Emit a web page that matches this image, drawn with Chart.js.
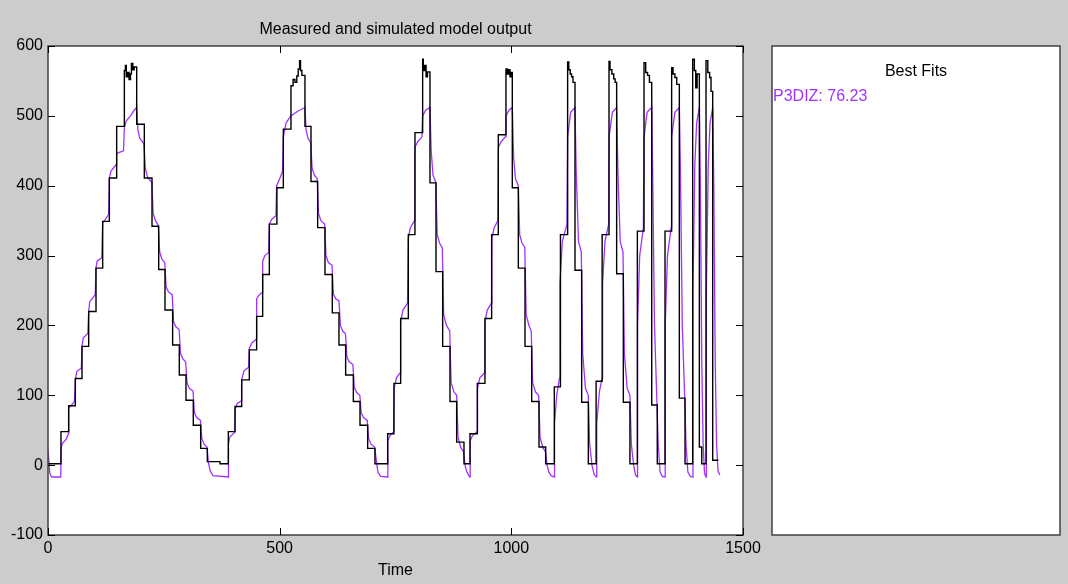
<!DOCTYPE html>
<html>
<head>
<meta charset="utf-8">
<title>Measured and simulated model output</title>
<script src="https://cdn.jsdelivr.net/npm/chart.js@4.4.1/dist/chart.umd.min.js"></script>
<style>
  html, body { margin: 0; padding: 0; background: #cccccc; }
  canvas { display: block; }
</style>
</head>
<body>
<canvas id="c" width="1068" height="584"></canvas>
<script>
// Measured output: staircase signal, each entry is the time where the level changes and the new level.
const measuredTime = [
  0, 28, 44.6, 59, 73.4, 87.8, 103.6, 118, 132.4, 148.2, 164.8, 167, 169, 172, 175, 178, 180, 183, 186,
  191.4, 207.9, 224.5, 238.9, 252.5, 269, 283.4, 297.8, 313.6, 329.5, 343.9, 371.2,
  389.2, 403.6, 418, 434.5, 450.3, 463.3, 477.7, 494, 507.9, 524.4, 529, 533, 537, 540, 543, 545, 548,
  554.6, 567.6, 582, 597.8, 613.6, 628, 642.4, 659, 673.4, 689.9, 705.7,
  733.1, 746.7, 761.1, 777.7, 792, 808.6, 810, 813, 816, 819,
  824.4, 837.4, 851.8, 867.6, 882, 897.8,
  910.8, 926.6, 943.1, 957.5, 971.9, 988.4, 991, 994, 997, 1000,
  1002.1, 1015.1, 1029.5, 1043.9, 1059.7, 1074.1,
  1092.8, 1106, 1121.5, 1124, 1127, 1130, 1133,
  1137.4, 1151.8, 1166.2, 1183, 1196, 1210.8, 1213, 1217, 1221, 1224,
  1227.3, 1241.7, 1256, 1272, 1286.4, 1290, 1294, 1298,
  1303, 1315, 1331.7, 1346, 1349, 1353, 1357,
  1362.6, 1374.9, 1391.4, 1395, 1398, 1401,
  1405.8, 1411, 1420.2, 1424, 1428, 1431,
  1434.6, 1447
];
const measuredOutput = [
  2, 48, 85, 124, 170, 220, 282, 349, 411, 485, 565, 572, 556, 562, 552, 560, 575, 566, 570,
  488, 411, 342, 280, 222, 172, 129, 93, 57, 24, 5, 2,
  48, 84, 122, 165, 213, 273, 345, 397, 481, 543, 552, 548, 557, 567, 579, 565, 558,
  485, 406, 340, 273, 218, 172, 129, 91, 57, 24, 2,
  45, 117, 210, 330, 476, 581, 565, 572, 556, 563,
  404, 277, 170, 91, 33, 2,
  45, 117, 210, 330, 473, 567, 560, 566, 556, 562,
  397, 282, 170, 91, 26, 2,
  112, 330, 577, 566, 560, 556, 548,
  279, 90, 2, 120, 330, 578, 566, 560, 553, 548,
  274, 90, 2, 335, 576, 562, 558, 548,
  86, 2, 335, 569, 560, 555, 545,
  96, 2, 581, 565, 540, 560,
  26, 2, 579, 562, 555, 535,
  7, 7
];

// Simulated model output (P3DIZ), read as corner points of the smooth response.
const simulatedTime = [
  0, 4, 8, 27.5, 28.1, 31, 40, 44, 44.6, 48, 57, 59, 62, 72, 73.4, 76, 86, 87.8, 90, 102, 103.6, 106, 116,
  118, 121, 131, 132.4, 136, 147, 148.2, 151, 163, 164.8, 169, 178, 186, 191.4,
  194, 198, 207, 210, 215, 224, 227, 232, 238, 241, 246, 252, 255, 260, 268, 271, 276, 283, 286, 291, 297,
  300, 305, 313, 316, 321, 329, 332, 337, 343, 346, 350, 356, 389.2,
  389.5, 392, 403, 404, 408, 417, 418, 423, 433, 434.5, 440, 449, 450.3, 456, 462, 463.3, 468, 476,
  477.7, 483, 492, 493.5, 500, 506, 507.9, 514, 524, 540, 554.6,
  557, 561, 567, 570, 575, 581, 584, 589, 597, 600, 605, 613, 616, 621, 628, 631, 636, 642, 645, 650, 658,
  661, 666, 673, 676, 681, 689, 692, 697, 705, 708, 712, 718, 733.1,
  733.5, 738, 746, 747, 752, 760, 761.1, 766, 776, 777.7, 782, 791, 792, 798, 807, 808.6, 815, 824.4,
  827, 831, 837, 840, 845, 851, 854, 860, 867, 870, 876, 882, 885, 891, 897, 900, 904, 908, 910.8,
  911.2, 916, 926, 927, 932, 942, 943.1, 948, 957, 958, 963, 971, 972, 978, 987, 988.4, 995, 1002.1,
  1005, 1009, 1015, 1018, 1023, 1029, 1032, 1038, 1043, 1046, 1052, 1059, 1062, 1068, 1074, 1077, 1081, 1086, 1092.8,
  1093.2, 1098, 1104, 1105, 1110, 1120, 1121.5, 1128, 1137.4,
  1140, 1145, 1151, 1154, 1160, 1166, 1169, 1174, 1179, 1184, 1184.4, 1190, 1196, 1197, 1202, 1210, 1211, 1218, 1227.3,
  1230, 1235, 1241, 1244, 1250, 1256, 1259, 1264, 1268, 1272, 1272.4, 1277, 1285, 1286.4, 1293, 1303,
  1305, 1309, 1314, 1317, 1321, 1326, 1331.7, 1332.1, 1337, 1345, 1346, 1353, 1362.6,
  1365, 1369, 1374, 1377, 1381, 1386, 1391.4, 1392, 1396, 1400, 1405.8,
  1408, 1411, 1414, 1417, 1420.2, 1421, 1425, 1429, 1434.6,
  1437, 1440, 1443, 1446, 1450
];
const simulatedOutput = [
  22, -12, -17, -17, 24, 31, 38, 45, 81, 84, 91, 122, 134, 139, 170, 182, 189, 220, 234, 244, 282, 292, 297,
  347, 349, 359, 411, 421, 430, 445, 447, 450, 483, 493, 500, 508, 512,
  480, 468, 460, 425, 412, 405, 360, 350, 343, 305, 295, 290, 255, 248, 244, 205, 198, 194, 160, 152, 148,
  118, 110, 106, 75, 68, 64, 38, 30, 26, 5, -8, -15, -17,
  30, 40, 47, 80, 88, 92, 122, 135, 140, 167, 175, 180, 238, 244, 247, 292, 300, 304,
  345, 352, 357, 400, 410, 420, 470, 490, 500, 507, 512,
  480, 468, 462, 425, 415, 410, 360, 350, 345, 300, 290, 286, 245, 238, 235, 200, 192, 188, 155, 148, 144,
  112, 104, 100, 75, 68, 64, 38, 30, 26, 10, -10, -16, -17,
  35, 42, 48, 110, 125, 132, 205, 222, 232, 325, 340, 350, 455, 463, 470, 500, 508, 512,
  450, 415, 405, 330, 318, 311, 215, 200, 192, 118, 105, 100, 40, 25, 19, 0, -10, -15, -17,
  35, 42, 48, 110, 125, 132, 205, 222, 232, 325, 340, 350, 455, 463, 470, 500, 508, 512,
  440, 410, 400, 330, 318, 312, 215, 200, 192, 118, 105, 100, 40, 25, 19, 0, -10, -15, -17,
  60, 100, 125, 260, 320, 345, 470, 505, 512,
  420, 320, 305, 160, 110, 100, 30, 0, -14, -17, 60, 105, 125, 260, 320, 345, 470, 505, 512,
  420, 320, 305, 160, 110, 100, 30, 0, -14, -17, 200, 300, 340, 470, 505, 512,
  420, 200, 95, 30, -10, -16, -17, 200, 300, 340, 470, 505, 512,
  420, 200, 100, 30, -10, -16, -17, 250, 430, 490, 512,
  400, 150, 30, -12, -17, 250, 430, 490, 512,
  400, 150, 30, -8, -14
];

const yTicks = [-100, 0, 100, 200, 300, 400, 500, 600];
const xTicks = [0, 500, 1000, 1500];
const fitLabel = 'P3DIZ: 76.23';

const FONT = '"Liberation Sans", Arial, sans-serif';
const PURPLE = '#a033ff';
const FRAME = '#404040';

const measuredPoints = measuredTime.map((t, i) => ({ x: t, y: measuredOutput[i] }));
const simulatedPoints = simulatedTime.map((t, i) => ({ x: t, y: simulatedOutput[i] }));

// Grey figure background, white axes, inward tick marks and the "Best Fits" panel.
const framePlugin = {
  id: 'frame',
  beforeDraw(chart) {
    const { ctx, chartArea: a } = chart;
    ctx.save();
    ctx.fillStyle = '#cccccc';
    ctx.fillRect(0, 0, chart.width, chart.height);
    ctx.fillStyle = '#ffffff';
    ctx.fillRect(a.left, a.top, a.right - a.left, a.bottom - a.top);
    ctx.restore();
  },
  afterDraw(chart) {
    const { ctx, chartArea: a, scales } = chart;
    ctx.save();
    ctx.strokeStyle = FRAME;
    ctx.lineWidth = 1.5;
    ctx.strokeRect(a.left, a.top, a.right - a.left, a.bottom - a.top);

    ctx.lineWidth = 1;
    ctx.strokeStyle = '#000';
    const len = 7;
    ctx.beginPath();
    yTicks.forEach(v => {
      const y = Math.round(scales.y.getPixelForValue(v)) + 0.5;
      ctx.moveTo(a.left, y); ctx.lineTo(a.left + len, y);
      ctx.moveTo(a.right, y); ctx.lineTo(a.right - len, y);
    });
    xTicks.forEach(v => {
      const x = Math.round(scales.x.getPixelForValue(v)) + 0.5;
      ctx.moveTo(x, a.bottom); ctx.lineTo(x, a.bottom - len);
      ctx.moveTo(x, a.top); ctx.lineTo(x, a.top + len);
    });
    ctx.stroke();

    // Best Fits panel
    const px = 772, pw = 288;
    ctx.fillStyle = '#ffffff';
    ctx.fillRect(px, a.top, pw, a.bottom - a.top);
    ctx.strokeStyle = FRAME;
    ctx.lineWidth = 1.5;
    ctx.strokeRect(px, a.top, pw, a.bottom - a.top);

    ctx.font = '16px ' + FONT;
    ctx.textBaseline = 'middle';
    ctx.fillStyle = '#000';
    ctx.textAlign = 'center';
    ctx.fillText('Best Fits', px + pw / 2, 72);
    ctx.fillStyle = PURPLE;
    ctx.textAlign = 'left';
    ctx.fillText(fitLabel, px + 1, 97);
    ctx.restore();
  }
};

new Chart(document.getElementById('c'), {
  type: 'line',
  data: {
    datasets: [
      {
        label: 'Measured',
        data: measuredPoints,
        borderColor: '#000000',
        borderWidth: 1.4,
        pointRadius: 0,
        stepped: 'before',
        fill: false
      },
      {
        label: 'P3DIZ',
        data: simulatedPoints,
        borderColor: PURPLE,
        borderWidth: 1.3,
        pointRadius: 0,
        tension: 0,
        fill: false
      }
    ]
  },
  options: {
    responsive: false,
    animation: false,
    devicePixelRatio: 1,
    layout: { padding: { left: 0, right: 325, top: 0, bottom: 0 } },
    plugins: {
      legend: { display: false },
      tooltip: { enabled: false },
      title: {
        display: true,
        text: 'Measured and simulated model output',
        color: '#000',
        fullSize: false,
        font: { family: FONT, size: 16, weight: 'normal' },
        padding: { top: 20, bottom: 6.8 }
      }
    },
    scales: {
      x: {
        type: 'linear',
        min: 0, max: 1500,
        afterFit(s) { s.height = 49; },
        afterBuildTicks(s) { s.ticks = xTicks.map(v => ({ value: v })); },
        grid: { display: false, drawTicks: false },
        border: { display: false },
        ticks: {
          color: '#000', padding: 4, maxRotation: 0, autoSkip: false,
          font: { family: FONT, size: 16 },
          callback: v => String(v)
        },
        title: {
          display: true, text: 'Time', color: '#000',
          font: { family: FONT, size: 16 },
          padding: { top: 0, bottom: 4 }
        }
      },
      y: {
        type: 'linear',
        min: -100, max: 600,
        afterFit(s) { s.width = 48; },
        afterBuildTicks(s) { s.ticks = yTicks.map(v => ({ value: v })); },
        grid: { display: false, drawTicks: false },
        border: { display: false },
        ticks: {
          color: '#000', padding: 5,
          font: { family: FONT, size: 16 },
          callback: v => String(v)
        }
      }
    }
  },
  plugins: [framePlugin]
});
</script>
</body>
</html>
